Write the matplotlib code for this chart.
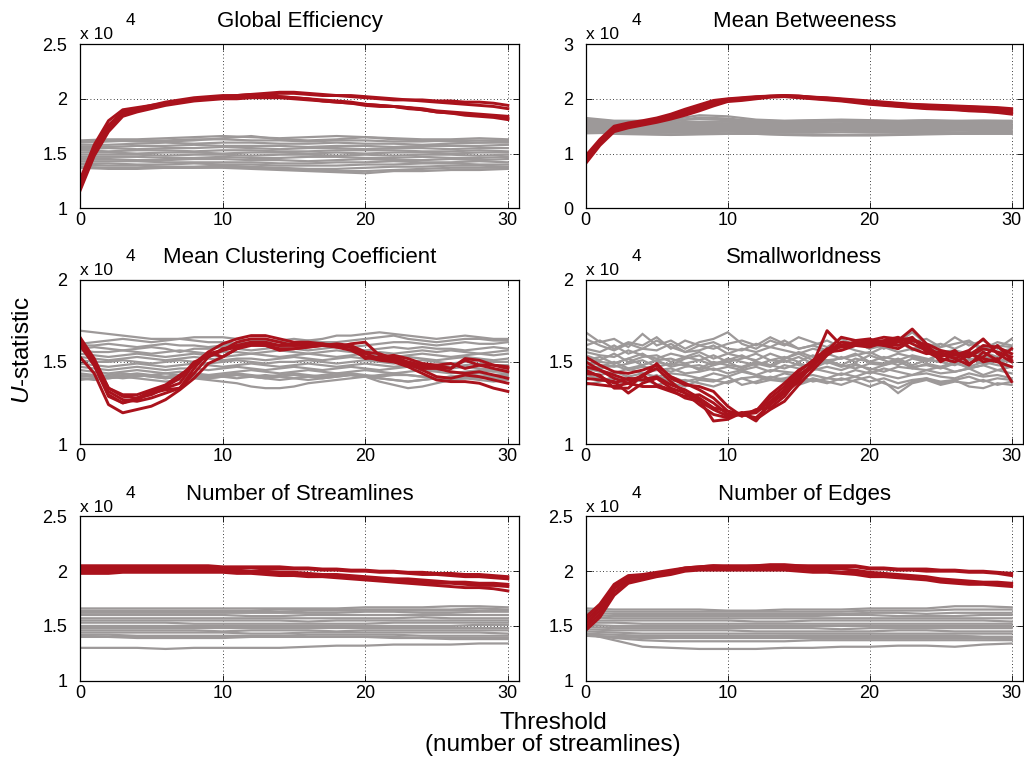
import matplotlib.pyplot as plt
import numpy as np

plt.rcParams['font.family'] = ['Liberation Sans', 'DejaVu Sans']
plt.rcParams['mathtext.fontset'] = 'custom'
plt.rcParams['mathtext.rm'] = 'Liberation Sans'
plt.rcParams['mathtext.it'] = 'Liberation Sans:italic'

# all U values below are stored in units of 100 (plotted as x 10^4)
x_fine = np.arange(0, 31)       # every threshold
x_coarse = np.arange(0, 31, 2)  # every other threshold

# ---------------- Global Efficiency ----------------
ge_red = [
    [118, 150, 172, 186, 190, 193, 196, 198, 200, 201, 202, 203, 204, 205, 206, 206, 205, 204, 203, 203, 202, 201, 200, 199, 199, 198, 198, 197, 197, 196, 194],
    [122, 155, 176, 188, 191, 194, 197, 199, 201, 202, 203, 203, 204, 204, 205, 205, 204, 203, 203, 202, 201, 200, 199, 199, 198, 197, 196, 195, 194, 193, 191],
    [116, 148, 170, 184, 188, 191, 194, 196, 198, 199, 200, 200, 201, 201, 201, 200, 199, 198, 197, 196, 194, 193, 193, 192, 191, 189, 188, 187, 186, 185, 184],
    [120, 153, 174, 185, 189, 192, 195, 197, 199, 200, 201, 201, 202, 202, 202, 201, 200, 199, 198, 197, 195, 194, 193, 192, 190, 188, 187, 186, 185, 184, 182],
    [126, 158, 180, 190, 192, 194, 196, 198, 200, 201, 202, 202, 203, 203, 202, 201, 200, 198, 197, 196, 195, 194, 193, 191, 190, 188, 187, 185, 184, 183, 181],
]
ge_gray = [
    [162, 163, 163, 164, 165, 166, 165, 164, 165, 166, 165, 164, 163, 163, 164, 163],
    [160, 161, 162, 162, 163, 163, 162, 162, 161, 162, 162, 161, 161, 162, 162, 162],
    [158, 158, 159, 160, 159, 160, 160, 159, 159, 160, 159, 159, 158, 159, 160, 160],
    [156, 156, 157, 157, 158, 157, 157, 157, 156, 157, 157, 156, 157, 157, 157, 158],
    [154, 155, 154, 155, 155, 156, 155, 154, 155, 155, 154, 155, 155, 154, 155, 155],
    [153, 152, 153, 153, 152, 153, 153, 152, 152, 153, 153, 153, 152, 152, 153, 152],
    [151, 151, 150, 151, 151, 150, 151, 151, 150, 151, 150, 151, 151, 150, 151, 151],
    [149, 149, 149, 148, 149, 149, 148, 149, 149, 148, 149, 148, 149, 149, 148, 149],
    [147, 147, 147, 146, 146, 147, 146, 146, 147, 147, 146, 146, 147, 146, 146, 147],
    [145, 145, 144, 144, 145, 145, 144, 144, 143, 144, 145, 144, 144, 145, 144, 145],
    [143, 143, 143, 142, 142, 142, 142, 141, 141, 142, 142, 143, 142, 142, 143, 142],
    [141, 141, 140, 140, 141, 140, 140, 139, 139, 139, 140, 140, 141, 141, 140, 140],
    [140, 139, 139, 138, 138, 139, 138, 137, 136, 136, 137, 138, 138, 139, 139, 138],
    [138, 137, 137, 137, 137, 138, 137, 136, 135, 134, 134, 135, 136, 137, 137, 137],
    [137, 136, 136, 137, 137, 137, 136, 135, 134, 133, 132, 134, 134, 135, 135, 136],
    [161, 162, 161, 161, 162, 164, 166, 163, 162, 163, 165, 163, 162, 161, 160, 161],
]

# ---------------- Mean Betweeness ----------------
mb_red = [
    [82, 115, 140, 147, 152, 157, 163, 170, 178, 187, 195, 197, 200, 203, 204, 202, 200, 198, 196, 193, 190, 188, 186, 184, 182, 181, 180, 178, 177, 175, 172],
    [85, 118, 143, 150, 154, 159, 166, 174, 182, 190, 197, 199, 201, 204, 205, 203, 201, 199, 197, 195, 192, 189, 187, 185, 183, 182, 181, 179, 178, 176, 174],
    [88, 121, 146, 152, 156, 161, 168, 177, 185, 193, 198, 200, 202, 204, 205, 204, 202, 200, 198, 196, 194, 191, 189, 187, 185, 184, 183, 182, 181, 179, 177],
    [92, 124, 148, 154, 158, 163, 170, 179, 187, 195, 199, 201, 203, 205, 206, 205, 203, 201, 199, 197, 195, 193, 191, 189, 188, 187, 186, 185, 184, 182, 180],
    [96, 126, 150, 156, 160, 165, 172, 181, 189, 197, 200, 202, 204, 205, 206, 205, 203, 202, 200, 198, 196, 194, 192, 190, 189, 188, 187, 186, 185, 184, 182],
]
mb_gray = [
    [165, 160, 160, 162, 170, 168, 162, 160, 161, 162, 161, 160, 161, 160, 160, 160],
    [160, 158, 159, 160, 163, 161, 160, 159, 160, 160, 160, 159, 160, 159, 160, 159],
    [158, 156, 157, 157, 158, 158, 157, 157, 158, 158, 157, 158, 157, 157, 158, 157],
    [155, 155, 155, 156, 156, 155, 155, 156, 155, 155, 156, 155, 155, 156, 155, 155],
    [153, 153, 154, 153, 153, 154, 153, 153, 154, 153, 153, 153, 154, 153, 153, 153],
    [151, 151, 151, 152, 151, 151, 152, 151, 151, 152, 151, 151, 151, 152, 151, 151],
    [149, 149, 150, 149, 149, 150, 149, 149, 150, 149, 149, 150, 149, 149, 150, 149],
    [147, 148, 147, 147, 148, 147, 147, 148, 147, 147, 148, 147, 147, 148, 147, 147],
    [145, 146, 145, 146, 145, 145, 146, 145, 145, 146, 145, 145, 146, 145, 145, 146],
    [143, 144, 143, 143, 144, 143, 143, 144, 143, 143, 143, 144, 143, 143, 144, 143],
    [141, 142, 141, 141, 141, 142, 141, 141, 141, 142, 141, 141, 141, 142, 141, 141],
    [139, 140, 139, 138, 139, 140, 139, 138, 138, 139, 139, 138, 139, 139, 138, 139],
    [137, 138, 136, 135, 136, 137, 136, 135, 134, 134, 135, 135, 136, 136, 137, 137],
    [140, 136, 135, 134, 135, 136, 136, 134, 133, 133, 133, 134, 135, 136, 136, 136],
    [162, 159, 158, 159, 166, 164, 159, 158, 159, 160, 159, 158, 158, 158, 159, 158],
    [150, 150, 150, 150, 150, 150, 150, 150, 151, 150, 150, 150, 150, 150, 150, 150],
]

# ---------------- Mean Clustering Coefficient ----------------
mcc_red = [
    [153, 143, 124, 119, 121, 123, 127, 133, 140, 149, 153, 158, 160, 160, 158, 158, 159, 160, 160, 159, 153, 151, 150, 147, 143, 139, 138, 138, 137, 134, 132],
    [163, 150, 132, 127, 126, 128, 131, 134, 143, 153, 157, 162, 164, 164, 162, 160, 160, 160, 159, 157, 153, 152, 152, 149, 145, 141, 140, 142, 141, 139, 137],
    [165, 152, 134, 129, 128, 130, 134, 137, 149, 156, 161, 164, 166, 166, 164, 162, 162, 161, 160, 159, 155, 152, 151, 148, 146, 146, 144, 143, 144, 142, 140],
    [160, 148, 130, 125, 127, 131, 133, 134, 146, 156, 153, 158, 161, 161, 160, 161, 160, 161, 159, 161, 162, 154, 153, 150, 148, 147, 146, 151, 148, 146, 144],
    [164, 151, 134, 130, 130, 133, 136, 142, 148, 155, 157, 159, 161, 160, 157, 158, 159, 160, 161, 160, 156, 155, 152, 149, 147, 148, 146, 152, 151, 148, 146],
    [161, 148, 129, 125, 128, 132, 135, 140, 150, 153, 158, 160, 162, 162, 160, 160, 161, 160, 160, 159, 152, 153, 154, 152, 149, 148, 149, 146, 148, 148, 147],
]
mcc_gray = [
    [169, 168, 167, 166, 165, 164, 164, 164, 165, 165, 165, 164, 163, 163, 162, 162, 163, 164, 166, 166, 167, 168, 167, 166, 165, 164, 165, 166, 165, 164, 164],
    [161, 162, 163, 164, 163, 162, 163, 164, 163, 162, 162, 161, 162, 163, 163, 164, 163, 162, 162, 163, 164, 165, 166, 164, 163, 162, 163, 164, 164, 163, 163],
    [160, 160, 161, 160, 159, 160, 161, 160, 160, 159, 160, 161, 161, 160, 159, 160, 161, 161, 160, 159, 160, 161, 162, 162, 161, 160, 161, 162, 161, 161, 162],
    [158, 159, 158, 157, 158, 159, 158, 156, 158, 158, 159, 158, 157, 158, 159, 158, 157, 158, 159, 158, 157, 158, 159, 158, 159, 158, 158, 157, 158, 159, 158],
    [157, 156, 156, 157, 156, 155, 156, 157, 156, 155, 156, 156, 155, 156, 157, 156, 155, 156, 157, 156, 155, 156, 155, 156, 157, 156, 157, 156, 155, 156, 157],
    [155, 154, 153, 154, 155, 154, 153, 154, 155, 154, 153, 154, 155, 154, 153, 154, 155, 154, 153, 154, 155, 154, 153, 154, 155, 154, 153, 154, 155, 154, 155],
    [153, 152, 151, 152, 153, 152, 151, 152, 153, 152, 151, 152, 152, 151, 152, 153, 152, 151, 152, 153, 152, 151, 152, 153, 152, 151, 152, 153, 152, 151, 152],
    [151, 150, 150, 151, 150, 149, 150, 151, 150, 149, 150, 151, 150, 149, 150, 150, 151, 150, 149, 150, 151, 150, 149, 150, 151, 150, 149, 150, 151, 150, 150],
    [149, 148, 147, 148, 149, 148, 147, 148, 149, 148, 147, 148, 149, 148, 147, 148, 149, 148, 147, 148, 149, 148, 147, 148, 149, 148, 147, 148, 149, 148, 148],
    [147, 146, 145, 146, 147, 146, 145, 146, 146, 145, 146, 147, 146, 145, 146, 147, 146, 145, 146, 147, 146, 145, 146, 147, 146, 145, 146, 147, 146, 145, 146],
    [145, 144, 143, 144, 145, 144, 143, 144, 143, 142, 143, 144, 145, 144, 143, 144, 145, 144, 143, 144, 145, 144, 143, 144, 145, 144, 143, 144, 145, 144, 144],
    [143, 142, 141, 142, 143, 142, 141, 142, 142, 141, 142, 143, 142, 141, 142, 143, 142, 141, 142, 143, 142, 141, 142, 142, 141, 140, 141, 142, 143, 142, 142],
    [141, 141, 140, 141, 142, 141, 140, 141, 141, 140, 141, 142, 141, 140, 141, 142, 141, 140, 141, 142, 141, 140, 139, 138, 139, 140, 141, 141, 140, 141, 141],
    [140, 139, 140, 141, 140, 139, 138, 139, 140, 139, 138, 137, 135, 134, 134, 135, 137, 138, 139, 140, 141, 140, 139, 138, 139, 140, 141, 140, 139, 138, 139],
    [142, 141, 142, 143, 142, 141, 140, 141, 142, 142, 141, 140, 141, 142, 141, 140, 139, 140, 141, 142, 141, 138, 136, 134, 135, 137, 139, 140, 141, 140, 139],
    [139, 140, 141, 140, 141, 142, 143, 142, 141, 140, 141, 142, 141, 140, 139, 140, 141, 142, 143, 142, 141, 142, 143, 142, 141, 140, 139, 140, 141, 142, 143],
]

# ---------------- Smallworldness ----------------
sw_red = [
    [153, 148, 144, 143, 145, 148, 141, 137, 133, 128, 120, 118, 119, 126, 133, 142, 148, 155, 160, 161, 162, 162, 163, 170, 161, 157, 155, 155, 152, 150, 147],
    [147, 145, 140, 137, 142, 146, 138, 131, 124, 118, 116, 119, 114, 125, 131, 140, 149, 169, 160, 162, 160, 161, 160, 164, 160, 150, 155, 153, 158, 156, 153],
    [145, 141, 137, 140, 139, 141, 136, 133, 128, 122, 120, 117, 121, 122, 129, 140, 147, 157, 165, 163, 164, 160, 162, 165, 156, 152, 150, 154, 160, 159, 155],
    [143, 142, 134, 134, 142, 136, 133, 128, 126, 121, 117, 118, 116, 124, 131, 138, 149, 156, 162, 161, 163, 165, 164, 164, 158, 155, 152, 156, 150, 152, 138],
    [140, 139, 138, 131, 137, 140, 134, 131, 127, 114, 115, 119, 120, 128, 135, 144, 151, 158, 159, 160, 162, 163, 165, 161, 157, 154, 154, 157, 164, 155, 150],
    [137, 136, 135, 137, 135, 135, 132, 129, 130, 125, 118, 119, 115, 121, 126, 136, 145, 154, 160, 162, 161, 160, 158, 163, 160, 153, 157, 149, 153, 160, 151],
    [150, 145, 142, 139, 141, 149, 140, 136, 135, 132, 123, 117, 120, 130, 137, 145, 150, 156, 157, 160, 159, 162, 163, 158, 155, 156, 152, 148, 156, 151, 158],
]
sw_gray = [
    [168, 162, 164, 159, 167, 160, 163, 158, 162, 164, 168, 161, 158, 163, 160, 165, 162, 159, 164, 160, 163, 158, 162, 168, 161, 159, 165, 160, 163, 158, 164],
    [160, 163, 158, 162, 160, 165, 158, 163, 160, 158, 161, 163, 160, 165, 161, 158, 160, 163, 159, 162, 158, 161, 160, 162, 164, 159, 161, 163, 158, 162, 160],
    [158, 156, 160, 155, 158, 157, 161, 156, 157, 160, 155, 158, 156, 159, 157, 155, 158, 156, 160, 157, 155, 159, 156, 158, 160, 156, 157, 155, 159, 156, 158],
    [156, 154, 153, 157, 154, 152, 155, 153, 156, 152, 155, 153, 151, 155, 152, 156, 153, 155, 152, 154, 156, 152, 155, 153, 151, 155, 152, 154, 156, 153, 155],
    [154, 151, 155, 150, 153, 154, 150, 153, 151, 154, 150, 152, 155, 151, 153, 150, 154, 151, 152, 155, 150, 153, 151, 154, 152, 150, 153, 151, 154, 150, 153],
    [152, 150, 149, 152, 148, 151, 152, 149, 151, 148, 152, 150, 148, 151, 150, 153, 149, 151, 148, 152, 150, 149, 152, 148, 151, 150, 148, 152, 149, 151, 150],
    [150, 148, 147, 149, 151, 147, 149, 148, 146, 150, 148, 147, 150, 148, 146, 149, 147, 150, 148, 146, 149, 148, 150, 147, 148, 146, 149, 147, 150, 148, 147],
    [148, 146, 148, 145, 147, 146, 144, 147, 148, 145, 147, 145, 147, 144, 148, 146, 145, 147, 145, 148, 146, 144, 147, 146, 145, 147, 144, 146, 148, 145, 147],
    [146, 144, 143, 146, 143, 145, 146, 143, 144, 146, 143, 145, 142, 145, 144, 143, 146, 144, 142, 145, 143, 146, 144, 142, 145, 143, 144, 146, 142, 145, 143],
    [144, 142, 144, 141, 143, 141, 143, 142, 140, 143, 141, 144, 142, 140, 143, 141, 142, 140, 143, 141, 144, 142, 140, 142, 143, 141, 140, 143, 141, 142, 140],
    [142, 140, 139, 141, 138, 140, 141, 138, 140, 139, 137, 140, 141, 139, 140, 142, 138, 140, 139, 141, 138, 140, 137, 139, 140, 138, 139, 141, 138, 140, 139],
    [139, 141, 137, 138, 140, 136, 138, 139, 137, 135, 138, 140, 137, 139, 138, 136, 139, 137, 140, 138, 135, 138, 131, 137, 139, 136, 138, 137, 139, 136, 138],
    [164, 160, 157, 161, 158, 163, 159, 156, 160, 162, 158, 157, 161, 159, 163, 158, 160, 157, 159, 162, 158, 160, 163, 157, 159, 161, 158, 162, 157, 160, 159],
    [145, 147, 150, 146, 148, 151, 147, 149, 145, 148, 150, 146, 149, 147, 151, 148, 146, 150, 147, 149, 145, 148, 151, 146, 149, 147, 150, 146, 148, 151, 147],
    [151, 153, 149, 152, 155, 150, 148, 152, 154, 149, 151, 154, 150, 148, 152, 155, 151, 149, 153, 150, 154, 151, 148, 152, 150, 155, 151, 149, 153, 150, 152],
    [136, 138, 141, 137, 139, 142, 137, 135, 139, 138, 141, 136, 138, 141, 139, 137, 140, 138, 136, 139, 141, 137, 134, 138, 140, 137, 139, 135, 134, 137, 136],
]

# ---------------- Number of Streamlines ----------------
ns_red = [
    [205, 205, 205, 205, 205, 205, 205, 205, 205, 205, 204, 204, 204, 204, 204, 203, 203, 202, 202, 201, 201, 200, 200, 199, 199, 198, 198, 197, 197, 196, 195],
    [203, 203, 203, 203, 203, 203, 203, 203, 203, 203, 203, 203, 203, 202, 202, 202, 202, 201, 201, 200, 200, 199, 199, 198, 197, 197, 196, 195, 195, 194, 193],
    [201, 201, 201, 201, 201, 202, 202, 202, 202, 202, 201, 201, 200, 200, 199, 199, 198, 197, 197, 196, 195, 194, 193, 193, 192, 191, 190, 190, 189, 189, 188],
    [200, 200, 200, 200, 200, 200, 200, 200, 200, 200, 200, 199, 199, 198, 198, 197, 197, 196, 195, 194, 194, 193, 192, 191, 190, 189, 189, 188, 187, 187, 186],
    [198, 198, 198, 199, 199, 199, 199, 199, 199, 199, 199, 198, 198, 197, 196, 196, 195, 195, 194, 193, 192, 191, 190, 189, 188, 187, 186, 185, 185, 184, 182],
]
ns_gray = [
    [166, 166, 166, 166, 166, 166, 166, 166, 166, 166, 167, 167, 167, 168, 168, 167],
    [164, 164, 164, 164, 164, 164, 164, 165, 165, 165, 165, 165, 165, 165, 166, 165],
    [162, 162, 162, 162, 162, 162, 162, 162, 162, 162, 163, 163, 162, 162, 163, 163],
    [160, 160, 160, 160, 160, 160, 159, 159, 160, 160, 160, 160, 160, 160, 160, 160],
    [157, 157, 157, 157, 157, 157, 157, 157, 157, 157, 157, 157, 158, 157, 157, 157],
    [155, 155, 155, 155, 155, 155, 155, 155, 154, 155, 155, 155, 155, 155, 155, 155],
    [153, 153, 153, 153, 152, 152, 152, 152, 152, 152, 152, 153, 153, 153, 153, 153],
    [150, 150, 150, 150, 150, 150, 150, 150, 150, 150, 150, 150, 150, 150, 151, 151],
    [148, 148, 148, 148, 148, 148, 148, 148, 148, 148, 148, 148, 148, 148, 148, 148],
    [146, 146, 146, 146, 146, 145, 146, 146, 146, 145, 146, 146, 146, 146, 146, 146],
    [144, 144, 144, 144, 144, 144, 143, 143, 144, 144, 144, 144, 144, 144, 144, 143],
    [142, 142, 141, 141, 141, 141, 141, 141, 142, 142, 142, 142, 141, 141, 141, 141],
    [140, 140, 140, 140, 140, 140, 140, 140, 140, 140, 140, 140, 139, 139, 139, 139],
    [141, 140, 139, 139, 139, 139, 140, 140, 140, 140, 140, 139, 139, 138, 138, 138],
    [130, 130, 130, 129, 130, 130, 130, 130, 131, 132, 132, 133, 133, 133, 134, 134],
    [163, 163, 163, 163, 163, 163, 163, 163, 164, 164, 164, 164, 164, 164, 164, 164],
]

# ---------------- Number of Edges ----------------
ne_red = [
    [146, 158, 178, 189, 192, 195, 197, 200, 201, 201, 201, 201, 201, 201, 201, 200, 199, 199, 198, 197, 195, 195, 194, 193, 192, 190, 189, 188, 188, 187, 186],
    [149, 161, 181, 191, 194, 196, 198, 201, 202, 202, 202, 202, 202, 202, 202, 201, 200, 200, 199, 199, 197, 196, 195, 194, 193, 191, 190, 189, 189, 188, 188],
    [152, 164, 184, 193, 195, 197, 199, 202, 203, 203, 203, 203, 203, 204, 204, 203, 202, 202, 202, 201, 199, 198, 197, 196, 195, 193, 192, 191, 190, 190, 189],
    [155, 167, 186, 195, 196, 198, 200, 203, 204, 205, 204, 204, 205, 205, 205, 205, 204, 204, 204, 204, 202, 202, 201, 201, 200, 200, 200, 199, 199, 198, 196],
    [158, 170, 188, 196, 197, 199, 201, 203, 204, 205, 205, 205, 205, 206, 206, 205, 205, 205, 205, 205, 203, 203, 202, 202, 202, 201, 201, 200, 200, 199, 198],
]
ne_gray = [
    [166, 165, 165, 165, 165, 164, 164, 165, 165, 165, 166, 166, 166, 168, 168, 167],
    [164, 163, 163, 163, 163, 163, 163, 163, 163, 163, 164, 164, 164, 165, 165, 165],
    [162, 161, 161, 161, 161, 161, 161, 161, 161, 161, 162, 162, 161, 162, 162, 162],
    [160, 159, 159, 159, 159, 159, 159, 159, 159, 160, 160, 159, 159, 159, 160, 160],
    [158, 157, 157, 157, 157, 157, 157, 157, 157, 157, 157, 157, 157, 157, 157, 157],
    [155, 155, 155, 155, 155, 155, 154, 154, 155, 155, 155, 155, 155, 155, 155, 154],
    [153, 153, 152, 152, 152, 152, 152, 152, 152, 152, 152, 152, 152, 152, 152, 152],
    [151, 150, 150, 150, 150, 150, 150, 150, 150, 150, 150, 150, 150, 150, 150, 150],
    [149, 148, 148, 148, 148, 148, 148, 148, 148, 147, 148, 148, 148, 148, 148, 148],
    [147, 146, 146, 146, 146, 146, 145, 145, 145, 145, 145, 146, 146, 145, 145, 145],
    [145, 144, 143, 143, 143, 143, 143, 143, 143, 143, 143, 143, 143, 143, 143, 143],
    [143, 142, 141, 141, 141, 141, 141, 141, 141, 141, 141, 141, 141, 141, 140, 140],
    [141, 140, 139, 139, 139, 139, 139, 139, 139, 139, 139, 139, 139, 139, 139, 138],
    [142, 139, 137, 136, 136, 136, 136, 136, 137, 137, 137, 137, 137, 137, 137, 137],
    [143, 137, 131, 130, 129, 129, 129, 130, 130, 131, 131, 132, 132, 131, 133, 134],
    [141, 140, 140, 140, 140, 140, 140, 141, 141, 141, 141, 141, 141, 141, 140, 140],
]

titles = ['Global Efficiency', 'Mean Betweeness', 'Mean Clustering Coefficient',
          'Smallworldness', 'Number of Streamlines', 'Number of Edges']
reds = [ge_red, mb_red, mcc_red, sw_red, ns_red, ne_red]
grays = [ge_gray, mb_gray, mcc_gray, sw_gray, ns_gray, ne_gray]
gray_x = [x_coarse, x_coarse, x_fine, x_fine, x_coarse, x_coarse]
yticks = [[1, 1.5, 2, 2.5], [0, 1, 2, 3], [1, 1.5, 2],
          [1, 1.5, 2], [1, 1.5, 2, 2.5], [1, 1.5, 2, 2.5]]

red_color = '#aa121c'
gray_color = '#9d9999'

fig = plt.figure(figsize=(10.24, 7.65), dpi=100)

lefts = [0.0781, 0.572]
widths = [0.429, 0.427]
bottoms = [0.7277, 0.4196, 0.1102]
height = 0.2147

for i in range(6):
    row, col = divmod(i, 2)
    ax = fig.add_axes([lefts[col], bottoms[row], widths[col], height])
    for g in grays[i]:
        ax.plot(gray_x[i], np.array(g) / 100, color=gray_color, lw=1.6,
                solid_joinstyle='miter')
    for r in reds[i]:
        ax.plot(x_fine, np.array(r) / 100, color=red_color, lw=2.1)

    ax.set_xlim(0, 30.8)
    ax.set_ylim(yticks[i][0], yticks[i][-1])
    ax.set_xticks([0, 10, 20, 30])
    ax.set_yticks(yticks[i])
    ax.set_yticklabels(['%g' % t for t in yticks[i]])
    ax.grid(True, color='black', linestyle=(0, (1, 3)), linewidth=0.6)
    ax.set_axisbelow(True)
    ax.tick_params(direction='in', top=True, right=True, length=4, width=0.6,
                   labelsize=13, colors='black')
    ax.tick_params(axis='y', pad=9)
    ax.tick_params(axis='x', pad=3)
    for s in ax.spines.values():
        s.set_linewidth(0.9)

    ax.set_title(titles[i], fontsize=16, pad=12)
    ax.annotate('x 10', xy=(0, 1), xycoords='axes fraction', xytext=(0, 3.5),
                textcoords='offset points', ha='left', va='baseline', fontsize=12.5)
    ax.annotate('4', xy=(0, 1), xycoords='axes fraction', xytext=(33, 13.5),
                textcoords='offset points', ha='left', va='baseline', fontsize=12.5)

fig.text(0.022, 0.542, r'$U$-statistic', rotation=90, ha='center', va='center', fontsize=17.5)
fig.text(0.54, 0.04, 'Threshold\n(number of streamlines)', ha='center', va='center',
         fontsize=17.5, linespacing=1.0)

fig.savefig('out.png', dpi=100)
